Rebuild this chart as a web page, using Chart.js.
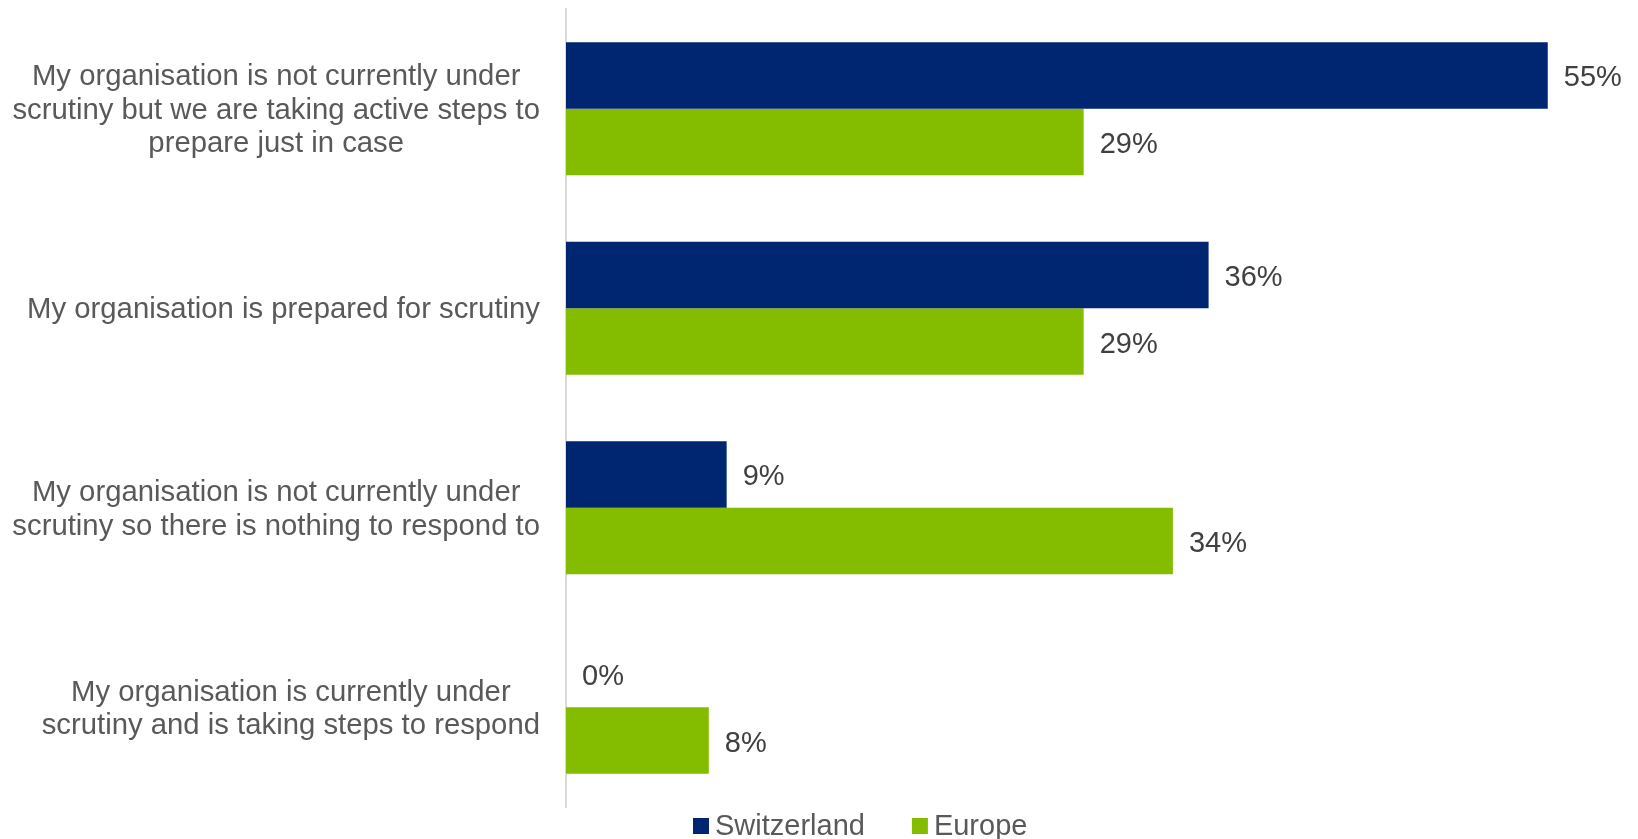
<!DOCTYPE html>
<html>
<head>
<meta charset="utf-8">
<script src="https://cdn.jsdelivr.net/npm/chart.js@4"></script>
<style>
  html, body { margin: 0; padding: 0; background: #fff; }
  #wrap { width: 1638px; height: 839px; position: relative; }
</style>
</head>
<body>
<div id="wrap"><canvas id="scrutinyChart"></canvas></div>
<script>
const categories = [
  ["My organisation is not currently under", "scrutiny but we are taking active steps to", "prepare just in case"],
  ["My organisation is prepared for scrutiny"],
  ["My organisation is not currently under", "scrutiny so there is nothing to respond to"],
  ["My organisation is currently under", "scrutiny and is taking steps to respond"]
];
const switzerland = [55, 36, 9, 0];
const europe = [29, 29, 34, 8];
const seriesNames = ["Switzerland", "Europe"];

const FONT = "'Liberation Sans', Arial, sans-serif";
const NAVY = "#002672";
const GREEN = "#84bc00";

// multi-line category labels, each block centred on its widest line and right-aligned to the axis
const categoryLabels = {
  id: "categoryLabels",
  afterDraw(chart) {
    const ctx = chart.ctx;
    const yScale = chart.scales.y;
    const right = chart.chartArea.left - 26;
    const lineHeight = 33.4;
    ctx.save();
    ctx.font = "29.3px " + FONT;
    ctx.fillStyle = "#595959";
    ctx.textAlign = "center";
    ctx.textBaseline = "middle";
    categories.forEach((lines, i) => {
      const widest = Math.max(...lines.map((l) => ctx.measureText(l).width));
      const cx = right - widest / 2;
      const cy = yScale.getPixelForValue(i) + 2;
      const top = cy - ((lines.length - 1) * lineHeight) / 2;
      lines.forEach((line, j) => ctx.fillText(line, cx, top + j * lineHeight));
    });
    ctx.restore();
  }
};

// percentage labels just past the end of each bar
const valueLabels = {
  id: "valueLabels",
  afterDatasetsDraw(chart) {
    const ctx = chart.ctx;
    ctx.save();
    ctx.font = "29px " + FONT;
    ctx.fillStyle = "#404040";
    ctx.textAlign = "left";
    ctx.textBaseline = "middle";
    chart.data.datasets.forEach((ds, di) => {
      chart.getDatasetMeta(di).data.forEach((bar, i) => {
        ctx.fillText(ds.data[i] + "%", bar.x + 16, bar.y + 3);
      });
    });
    ctx.restore();
  }
};

// legend row under the plot
const bottomLegend = {
  id: "bottomLegend",
  afterDraw(chart) {
    const ctx = chart.ctx;
    let x = 693;
    const y = 826;
    ctx.save();
    ctx.font = "29px " + FONT;
    ctx.textBaseline = "middle";
    ctx.textAlign = "left";
    chart.data.datasets.forEach((ds) => {
      ctx.fillStyle = ds.backgroundColor;
      ctx.fillRect(x, y - 8, 16, 16);
      ctx.fillStyle = "#595959";
      ctx.fillText(ds.label, x + 22, y + 1);
      x += 22 + ctx.measureText(ds.label).width + 47;
    });
    ctx.restore();
  }
};

new Chart(document.getElementById("scrutinyChart").getContext("2d"), {
  type: "bar",
  data: {
    labels: categories,
    datasets: [
      { label: seriesNames[0], data: switzerland, backgroundColor: NAVY },
      { label: seriesNames[1], data: europe, backgroundColor: GREEN }
    ]
  },
  options: {
    indexAxis: "y",
    responsive: true,
    maintainAspectRatio: false,
    devicePixelRatio: 1,
    animation: false,
    layout: { padding: { top: 9, right: 1, bottom: 32, left: 0 } },
    datasets: { bar: { categoryPercentage: 0.667, barPercentage: 1, borderWidth: 0 } },
    scales: {
      x: { display: false, min: 0, max: 60 },
      y: {
        ticks: { display: false },
        grid: { display: false },
        border: { display: true, color: "#d9d9d9", width: 2 },
        afterFit: (scale) => { scale.width = 566; }
      }
    },
    plugins: {
      legend: { display: false },
      tooltip: { enabled: false }
    }
  },
  plugins: [categoryLabels, valueLabels, bottomLegend]
});
</script>
</body>
</html>
